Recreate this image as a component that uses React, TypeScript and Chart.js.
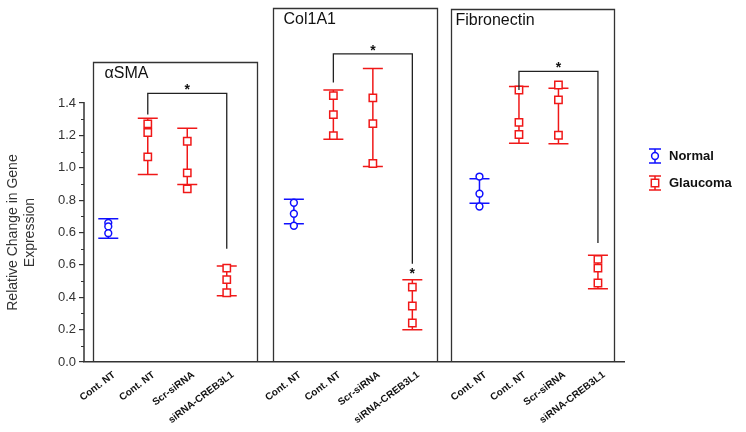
import React, { useEffect, useRef } from 'react';
import { Chart, registerables } from 'chart.js';

Chart.register(...registerables);

// ---------- data ----------
const panelTitles = ['αSMA', 'Col1A1', 'Fibronectin'];
const categoryLabels = ['Cont. NT', 'Cont. NT', 'Scr-siRNA', 'siRNA-CREB3L1'];
const yTickLabels = ['0.0', '0.2', '0.4', '0.6', '0.6', '0.8', '1.0', '1.2', '1.4'];
const yTitleLines = ['Relative Change in Gene', 'Expression'];
const seriesNames = ['Normal', 'Glaucoma'];

// Normal (Cont. NT) replicate values per panel (axis units)
const normalValues = [
  [0.860, 0.838, 0.796],
  [0.984, 0.916, 0.842],
  [1.146, 1.040, 0.961],
];
// Normal error bars [low, high] per panel
const normalErrors = [
  [0.765, 0.885],
  [0.854, 1.006],
  [0.981, 1.132],
];
// Glaucoma replicate values per panel, per category (Cont. NT, Scr-siRNA, siRNA-CREB3L1)
const glaucomaValues = [
  [[1.472, 1.418, 1.268], [1.364, 1.169, 1.070], [0.580, 0.509, 0.428]],
  [[1.646, 1.529, 1.399], [1.632, 1.473, 1.227], [0.463, 0.346, 0.241]],
  [[1.681, 1.481, 1.406], [1.712, 1.620, 1.401], [0.634, 0.580, 0.488]],
];
// Glaucoma error bars [low, high]
const glaucomaErrors = [
  [[1.159, 1.506], [1.097, 1.444], [0.410, 0.593]],
  [[1.377, 1.681], [1.208, 1.813], [0.200, 0.509]],
  [[1.352, 1.702], [1.348, 1.691], [0.453, 0.659]],
];
// Significance brackets per panel: [top, left end, right end]
const bracketTops = [1.660, 1.904, 1.796];
const bracketLeftEnds = [1.529, 1.728, 1.681];
const bracketRightEnds = [0.700, 0.607, 0.735];
// Extra star above an error bar: [panel, category, center value]
const extraStars = [[1, 3, 0.570]];

// ---------- layout / style ----------
const FONT = '"Liberation Sans", Arial, sans-serif';
const BLUE = '#1010ff';
const RED = '#f01818';
const AXIS = '#333333';
const GROUP_STRIDE = 4.7;
const AXIS_TOP = 1.6;
const xPos = (g: number, i: number) => g * GROUP_STRIDE + i;
const panelFrames = [
  [-0.387, 3.765, 1.852],
  [4.170, 8.322, 2.190],
  [8.676, 12.803, 2.183],
];
const titleOffsets = [11, 10, 4];

const tickPositions: number[] = [];
const tickTexts: string[] = [];
panelTitles.forEach((_, g) => {
  categoryLabels.forEach((lab, i) => {
    tickPositions.push(xPos(g, i));
    tickTexts.push(lab);
  });
});
const yTickValues = yTickLabels.map((_, i) => Math.round(i * 0.2 * 10) / 10);

function drawStar(ctx: CanvasRenderingContext2D, x: number, yCenter: number) {
  ctx.font = `bold 14px ${FONT}`;
  ctx.fillStyle = '#111';
  ctx.textAlign = 'center';
  ctx.textBaseline = 'alphabetic';
  ctx.fillText('*', x, yCenter + 8);
}

const decorPlugin = {
  id: 'decor',
  afterDraw(chart: any) {
    const { ctx, chartArea } = chart;
    const xs = chart.scales.x;
    const ys = chart.scales.y;
    ctx.save();
    // y axis line (0 .. top tick)
    ctx.strokeStyle = AXIS;
    ctx.lineWidth = 1.5;
    ctx.beginPath();
    ctx.moveTo(chartArea.left, chartArea.bottom);
    ctx.lineTo(chartArea.left, ys.getPixelForValue(AXIS_TOP) - 1);
    ctx.stroke();
    // minor ticks on y axis
    ctx.lineWidth = 1;
    for (let k = 0; k < 8; k++) {
      const py = Math.round(ys.getPixelForValue(0.1 + k * 0.2)) + 0.5;
      ctx.beginPath();
      ctx.moveTo(chartArea.left - 3, py);
      ctx.lineTo(chartArea.left, py);
      ctx.stroke();
    }
    // y axis title
    ctx.save();
    ctx.translate(13, (ys.getPixelForValue(0) + ys.getPixelForValue(AXIS_TOP)) / 2);
    ctx.rotate(-Math.PI / 2);
    ctx.font = `14px ${FONT}`;
    ctx.fillStyle = AXIS;
    ctx.textAlign = 'center';
    ctx.textBaseline = 'middle';
    yTitleLines.forEach((line, k) => ctx.fillText(line, 0, k * 17));
    ctx.restore();
    // panel frames and titles
    panelFrames.forEach(([a, b, top], g) => {
      const x1 = Math.round(xs.getPixelForValue(a)) + 0.5;
      const x2 = Math.round(xs.getPixelForValue(b)) + 0.5;
      const y1 = Math.round(ys.getPixelForValue(top)) + 0.5;
      const y2 = chartArea.bottom;
      ctx.strokeStyle = AXIS;
      ctx.lineWidth = 1.3;
      ctx.beginPath();
      ctx.moveTo(x1, y2);
      ctx.lineTo(x1, y1);
      ctx.lineTo(x2, y1);
      ctx.lineTo(x2, y2);
      ctx.stroke();
      ctx.font = `16px ${FONT}`;
      ctx.fillStyle = '#111';
      ctx.textAlign = 'left';
      ctx.textBaseline = 'middle';
      ctx.fillText(panelTitles[g], x1 + titleOffsets[g], y1 + 11.5);
    });
    // brackets
    bracketTops.forEach((top, g) => {
      const xl = xs.getPixelForValue(xPos(g, 1));
      const xr = xs.getPixelForValue(xPos(g, 3));
      const yt = ys.getPixelForValue(top);
      ctx.strokeStyle = '#222';
      ctx.lineWidth = 1.3;
      ctx.beginPath();
      ctx.moveTo(xl, ys.getPixelForValue(bracketLeftEnds[g]));
      ctx.lineTo(xl, yt);
      ctx.lineTo(xr, yt);
      ctx.lineTo(xr, ys.getPixelForValue(bracketRightEnds[g]));
      ctx.stroke();
      drawStar(ctx, (xl + xr) / 2, yt - 7);
    });
    extraStars.forEach(([g, i, v]) => {
      drawStar(ctx, xs.getPixelForValue(xPos(g, i)), ys.getPixelForValue(v));
    });
    // legend
    const colors = [BLUE, RED];
    seriesNames.forEach((name, k) => {
      const cx = 655;
      const cy = 156 + k * 27;
      ctx.strokeStyle = colors[k];
      ctx.lineWidth = 1.5;
      ctx.beginPath();
      ctx.moveTo(cx - 6, cy - 7); ctx.lineTo(cx + 6, cy - 7);
      ctx.moveTo(cx - 6, cy + 7); ctx.lineTo(cx + 6, cy + 7);
      ctx.moveTo(cx, cy - 7); ctx.lineTo(cx, cy + 7);
      ctx.stroke();
      ctx.fillStyle = '#fff';
      ctx.beginPath();
      if (k === 0) {
        ctx.arc(cx, cy, 3.4, 0, Math.PI * 2);
      } else {
        ctx.rect(cx - 3.7, cy - 3.7, 7.4, 7.4);
      }
      ctx.fill();
      ctx.stroke();
      ctx.font = `bold 13px ${FONT}`;
      ctx.fillStyle = '#111';
      ctx.textAlign = 'left';
      ctx.textBaseline = 'middle';
      ctx.fillText(name, 669, cy);
    });
    ctx.restore();
  },
};

export default function App() {
  const ref = useRef<HTMLCanvasElement | null>(null);
  useEffect(() => {
    document.body.style.margin = '0';
    const normalPts = normalValues.flatMap((vals, g) => vals.map((y) => ({ x: xPos(g, 0), y })));
    const glaucomaPts = glaucomaValues.flatMap((cats, g) =>
      cats.flatMap((vals, c) => vals.map((y) => ({ x: xPos(g, c + 1), y })))
    );
    const normalErr = normalErrors.flatMap(([lo, hi], g) => [
      { x: xPos(g, 0), y: lo },
      { x: xPos(g, 0), y: hi },
      { x: xPos(g, 0), y: null },
    ]);
    const glaucomaErr = glaucomaErrors.flatMap((cats, g) =>
      cats.flatMap(([lo, hi], c) => [
        { x: xPos(g, c + 1), y: lo },
        { x: xPos(g, c + 1), y: hi },
        { x: xPos(g, c + 1), y: null },
      ])
    );
    const chart = new Chart(ref.current as HTMLCanvasElement, {
      type: 'scatter',
      data: {
        datasets: [
          {
            label: seriesNames[0],
            data: normalPts,
            pointStyle: 'circle',
            pointRadius: 3.4,
            borderColor: BLUE,
            backgroundColor: '#ffffff',
            pointBorderWidth: 1.5,
            order: 0,
          },
          {
            label: seriesNames[1],
            data: glaucomaPts,
            pointStyle: 'rect',
            pointRadius: 5.2,
            borderColor: RED,
            backgroundColor: '#ffffff',
            pointBorderWidth: 1.5,
            order: 0,
          },
          {
            label: 'Normal error',
            data: normalErr as any,
            showLine: true,
            spanGaps: false,
            borderColor: BLUE,
            borderWidth: 1.5,
            pointStyle: 'line',
            pointRadius: 10,
            pointBorderWidth: 1.5,
            pointBorderColor: BLUE,
            order: 1,
          },
          {
            label: 'Glaucoma error',
            data: glaucomaErr as any,
            showLine: true,
            spanGaps: false,
            borderColor: RED,
            borderWidth: 1.5,
            pointStyle: 'line',
            pointRadius: 10,
            pointBorderWidth: 1.5,
            pointBorderColor: RED,
            order: 1,
          },
        ],
      },
      options: {
        animation: false,
        responsive: false,
        layout: { padding: { left: 0, top: 10, right: 122, bottom: 0 } },
        plugins: { legend: { display: false }, tooltip: { enabled: false } },
        scales: {
          x: {
            type: 'linear',
            min: -0.615,
            max: 13.06,
            afterBuildTicks: (scale: any) => {
              scale.ticks = tickPositions.map((v) => ({ value: v }));
            },
            afterFit: (scale: any) => {
              scale.height = 70;
            },
            ticks: {
              autoSkip: false,
              maxRotation: 37,
              minRotation: 37,
              padding: -1,
              labelOffset: 6,
              color: '#111',
              font: { family: FONT, size: 10, weight: 'bold' },
              callback: (_v: any, i: number) => tickTexts[i],
            },
            grid: { display: false },
            border: { display: true, color: AXIS, width: 1.5 },
          },
          y: {
            type: 'linear',
            min: 0,
            max: 2.166,
            afterBuildTicks: (scale: any) => {
              scale.ticks = yTickValues.map((v) => ({ value: v }));
            },
            afterFit: (scale: any) => {
              scale.width = 84;
            },
            ticks: {
              autoSkip: false,
              padding: 3,
              color: AXIS,
              font: { family: FONT, size: 13 },
              callback: (_v: any, i: number) => yTickLabels[i],
            },
            grid: { display: true, drawOnChartArea: false, drawTicks: true, tickLength: 5, color: AXIS, lineWidth: 1.2 },
            border: { display: false },
          },
        },
      },
      plugins: [decorPlugin],
    } as any);
    return () => chart.destroy();
  }, []);
  return (
    <div style={{ width: 746, height: 432 }}>
      <canvas ref={ref} width={746} height={432} style={{ display: 'block' }} />
    </div>
  );
}
